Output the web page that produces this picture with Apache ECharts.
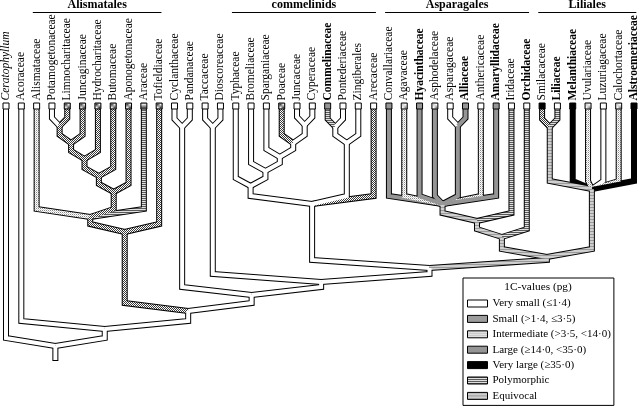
<!DOCTYPE html>
<html><head><meta charset="utf-8">
<script src="https://cdn.jsdelivr.net/npm/echarts@6/dist/echarts.min.js"></script>
<style>html,body{margin:0;padding:0;background:#fff}#c{width:640px;height:407px}</style>
</head><body><div id="c"></div>
<script>
// ---------- data ----------
const taxa = ['Ceratophyllum','Acoraceae','Alismataceae','Potamogetonaceae','Limnocharitaceae','Juncaginaceae',
  'Hydrocharitaceae','Butomaceae','Aponogetonaceae','Araceae','Tofieldiaceae','Cyclanthaceae','Pandanaceae',
  'Taccaceae','Dioscoreaceae','Typhaceae','Bromeliaceae','Sparganiaceae','Poaceae','Juncaceae','Cyperaceae',
  'Commelinaceae','Pontederiaceae','Zingiberales','Arecaceae','Convallariaceae','Agavaceae','Hyacinthaceae',
  'Asphodelaceae','Asparagaceae','Alliaceae','Anthericaceae','Amaryllidaceae','Iridaceae','Orchidaceae',
  'Smilacaceae','Liliaceae','Melanthiaceae','Uvulariaceae','Luzuriagaceae','Calochortaceae','Alstroemeriaceae'];
// genome-size category of each terminal branch: W very small, S small, I intermediate, L large, V very large, P polymorphic, E equivocal
const taxonState = ['W','W','I','W','S','S','S','S','S','P','S','W','W','W','W','W','W','W','S','W','W',
  'P','W','W','S','L','I','L','L','W','L','I','L','P','P','S','P','V','I','W','I','V'];
// category shown in the small box at each tip
const tipState = ['W','W','W','W','S','S','S','S','S','P','S','W','W','W','W','W','W','W','S','W','W',
  'L','W','W','W','L','I','L','I','W','L','W','L','W','W','V','W','V','I','W','I','V'];
const boldTaxa = ['Commelinaceae','Hyacinthaceae','Alliaceae','Amaryllidaceae','Orchidaceae','Liliaceae','Melanthiaceae','Alstroemeriaceae'];
const italicTaxa = ['Ceratophyllum'];

// internal clades (children listed left to right), node heights, branch states
const cladeNames = ['Al6','Al5','Al4','Al3','Al2','Al1','Alismatales','Pandanales','Dioscoreales','Cyperids','P4','P3','P2','Poales',
  'CP','CZ','commelinids','AA','Asp3','Asp2','Asparagales','SL','Liliales','AspLil','A5','A4','A3','A2','A1','Root'];
const cladeKids = [
  ['Potamogetonaceae','Limnocharitaceae'], ['Al6','Juncaginaceae'], ['Al5','Hydrocharitaceae'], ['Al4','Butomaceae'],
  ['Al3','Aponogetonaceae'], ['Alismataceae','Al2','Araceae'], ['Al1','Tofieldiaceae'],
  ['Cyclanthaceae','Pandanaceae'], ['Taccaceae','Dioscoreaceae'],
  ['Juncaceae','Cyperaceae'], ['Poaceae','Cyperids'], ['Sparganiaceae','P4'], ['Bromeliaceae','P3'], ['Typhaceae','P2'],
  ['Commelinaceae','Pontederiaceae'], ['CP','Zingiberales'], ['Poales','CZ','Arecaceae'],
  ['Asparagaceae','Alliaceae'],
  ['Convallariaceae','Agavaceae','Hyacinthaceae','Asphodelaceae','AA','Anthericaceae','Amaryllidaceae'],
  ['Asp3','Iridaceae'], ['Asp2','Orchidaceae'],
  ['Smilacaceae','Liliaceae'], ['SL','Melanthiaceae','Uvulariaceae','Luzuriagaceae','Calochortaceae','Alstroemeriaceae'],
  ['Asparagales','Liliales'], ['commelinids','AspLil'], ['Dioscoreales','A5'], ['Pandanales','A4'],
  ['Alismatales','A3'], ['Acoraceae','A2'], ['Ceratophyllum','A1']];
const cladeHeight = [126,143,159,176,192,217,232,127,127,125,143,157,171,186,127,143,204,126,204,221,237,127,189,257,268,282,295,311,329,346];
const cladeState = ['S','S','S','S','S','S','S','W','W','W','W','W','W','W','W','W','W','L','E','E','E','E','E','E','W','W','W','W','W','W'];

const groupNames = ['Alismatales','commelinids','Asparagales','Liliales'];
const groupFirst = ['Alismataceae','Typhaceae','Convallariaceae','Smilacaceae'];
const groupLast  = ['Tofieldiaceae','Arecaceae','Orchidaceae','Alstroemeriaceae'];

const legendTitle = '1C-values (pg)';
const stateKeys = ['W','S','I','L','V','P','E'];
const stateLabels = ['Very small (\u22641\u00b74)','Small (>1\u00b74, \u22643\u00b75)','Intermediate (>3\u00b75, <14\u00b70)',
  'Large (\u226514\u00b70, <35\u00b70)','Very large (\u226535\u00b70)','Polymorphic','Equivocal'];

// ---------- styling ----------
const LEAF_Y = 106, BRANCH_TOP = 108, DROP = 8, ROOT_STEM = 14;
const FONT = 'Liberation Serif';
function tile(rows){
  const h = rows.length, w = rows[0].length;
  const c = document.createElement('canvas'); c.width = w; c.height = h;
  const g = c.getContext('2d');
  for (let y=0;y<h;y++) for (let x=0;x<w;x++){ g.fillStyle = rows[y][x]; g.fillRect(x,y,1,1); }
  return {image: c, repeat: 'repeat'};
}
const fills = {
  W: '#ffffff',
  S: tile([['#3a3a3a','#ffffff'],['#ffffff','#3a3a3a']]),
  I: tile([['#8a8a8a','#ffffff'],['#ffffff','#d0d0d0']]),
  L: '#959595',
  V: '#000000',
  P: tile([['#5a5a5a'],['#e0e0e0']]),
  E: tile([['#9a9a9a'],['#cfcfcf'],['#cfcfcf']])
};

// ---------- tree layout from topology ----------
const pos = {};
taxa.forEach((t,i)=>{ pos[t] = {x:i, y:BRANCH_TOP, state: taxonState[i]}; });
const parentOf = {};
cladeNames.forEach((n,k)=>{
  const kids = cladeKids[k];
  const xs = kids.map(c=>pos[c].x);
  pos[n] = {x:(Math.min(...xs)+Math.max(...xs))/2, y:cladeHeight[k], state: cladeState[k]};
  kids.forEach(c=>parentOf[c]=n);
});
const outline = [], fill = [];
Object.keys(pos).forEach(n=>{
  const c = pos[n]; let pts;
  if (parentOf[n]) {
    const p = pos[parentOf[n]];
    pts = [[c.x, c.y], [c.x, p.y-DROP], [p.x, p.y]];
  } else {
    pts = [[c.x, c.y], [c.x, c.y+ROOT_STEM]];
  }
  const oPts = pts.map(q=>q.slice());
  if (!parentOf[n]) oPts[1][1] += 1;
  outline.push({coords: oPts});
  fill.push({coords: pts, lineStyle: {color: fills[c.state]}});
});

const leafPoints = taxa.map((t,i)=>({
  value:[i, LEAF_Y],
  itemStyle:{color: fills[tipState[i]]},
  label:{
    formatter: t,
    fontWeight: boldTaxa.includes(t) ? 'bold' : 'normal',
    fontStyle: italicTaxa.includes(t) ? 'italic' : 'normal'
  }
}));

const groupData = groupNames.map((g,k)=>[taxa.indexOf(groupFirst[k]), taxa.indexOf(groupLast[k]), g]);

const legendSeries = stateKeys.map((s,k)=>({
  type:'bar', name: stateLabels[k], data: [],
  itemStyle:{color: fills[s], borderColor:'#000', borderWidth:1}
}));

const chart = echarts.init(document.getElementById('c'), null, {renderer:'canvas'});
chart.setOption({
  animation:false,
  backgroundColor:'#fff',
  title:{text: legendTitle, left: 538, top: 282, textAlign:'center', padding:0,
    textStyle:{fontFamily:FONT, fontSize:11.3, fontWeight:'normal', color:'#000'}},
  legend:{orient:'vertical', left:463, top:278, padding:[20,3,4,4], itemWidth:20, itemHeight:7, itemGap:4.4,
    icon:'rect', selectedMode:false, borderColor:'#000', borderWidth:1,
    itemStyle:{borderColor:'#000', borderWidth:1},
    textStyle:{fontFamily:FONT, fontSize:11, color:'#000', width:118, overflow:'none'},
    data: stateLabels},
  grid:{left:6, right:6, top:0, bottom:0},
  xAxis:{type:'value', min:0, max:41, show:false},
  yAxis:{type:'value', min:0, max:407, inverse:true, show:false},
  series:[
    {type:'lines', coordinateSystem:'cartesian2d', polyline:true, silent:true, z:2,
     lineStyle:{color:'#000', width:6, opacity:1, join:'miter', cap:'butt'}, data: outline},
    {type:'lines', coordinateSystem:'cartesian2d', polyline:true, silent:true, z:3,
     lineStyle:{width:4, opacity:1, join:'miter', cap:'butt'}, data: fill},
    {type:'scatter', z:4, symbol:'rect', symbolSize:6, silent:true,
     itemStyle:{borderColor:'#000', borderWidth:1, opacity:1},
     label:{show:true, position:'top', distance:2, rotate:90, align:'left', verticalAlign:'middle',
       fontFamily:FONT, fontSize:11.5, color:'#000'},
     data: leafPoints},
    {type:'custom', z:5, silent:true, data: groupData,
     renderItem:(params, api)=>{
       const a = api.coord([api.value(0)-0.25, 0]), b = api.coord([api.value(1)+0.15, 0]);
       const name = groupData[params.dataIndex][2];
       return {type:'group', children:[
         {type:'line', shape:{x1:a[0], y1:12.5, x2:b[0], y2:12.5}, style:{stroke:'#000', lineWidth:1}},
         {type:'text', style:{text:name, x:(a[0]+b[0])/2, y:5, align:'center', verticalAlign:'middle',
           font:'bold 12px "Liberation Serif"', fill:'#000'}}
       ]};
     }},
    ...legendSeries
  ]
});
</script></body></html>
